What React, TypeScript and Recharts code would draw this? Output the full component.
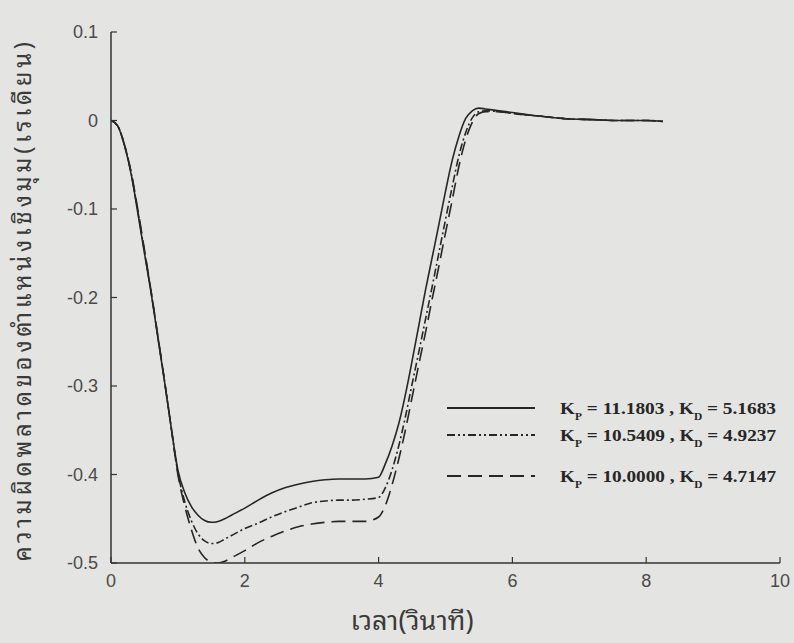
import React from 'react';
import { LineChart, Line, XAxis, YAxis } from 'recharts';

// time (s)
const timeS = [
  0, 0.1, 0.2, 0.3, 0.4, 0.5, 0.6, 0.7, 0.8, 0.9,
  1.0, 1.1, 1.2, 1.3, 1.4, 1.5, 1.6, 1.7, 1.8, 2.0,
  2.2, 2.4, 2.6, 2.8, 3.0, 3.2, 3.4, 3.6, 3.8, 4.0,
  4.1, 4.2, 4.3, 4.4, 4.5, 4.6, 4.7, 4.8, 4.9, 5.0,
  5.1, 5.2, 5.3, 5.4, 5.5, 5.6, 5.8, 6.0, 6.4, 6.8,
  7.2, 7.6, 8.0, 8.25,
];

// Kp = 11.1803, Kd = 5.1683 (solid)
const errKp111803 = [
  0, -0.006, -0.028, -0.06, -0.104, -0.15, -0.195, -0.245, -0.295, -0.347,
  -0.395, -0.42, -0.436, -0.446, -0.452, -0.454, -0.453, -0.45, -0.446, -0.438,
  -0.429, -0.421, -0.415, -0.411, -0.408, -0.406, -0.405, -0.405, -0.405, -0.403,
  -0.388, -0.368, -0.343, -0.31, -0.272, -0.232, -0.192, -0.155, -0.118, -0.08,
  -0.045, -0.018, 0.002, 0.011, 0.014, 0.013, 0.011, 0.009, 0.005, 0.002,
  0.001, 0.0, 0.0, -0.001,
];

// Kp = 10.5409, Kd = 4.9237 (dash-dot)
const errKp105409 = [
  0, -0.006, -0.027, -0.059, -0.102, -0.148, -0.194, -0.244, -0.294, -0.347,
  -0.398, -0.43, -0.452, -0.467, -0.475, -0.478, -0.477, -0.473, -0.469, -0.461,
  -0.455, -0.448, -0.442, -0.437, -0.432, -0.43, -0.429, -0.429, -0.428, -0.426,
  -0.415, -0.395, -0.368, -0.335, -0.298, -0.262, -0.225, -0.188, -0.15, -0.112,
  -0.075, -0.04, -0.014, 0.003, 0.01, 0.011, 0.01, 0.008, 0.005, 0.002,
  0.001, 0.0, 0.0, -0.001,
];

// Kp = 10.0000, Kd = 4.7147 (long dash)
const errKp100000 = [
  0, -0.006, -0.027, -0.058, -0.1, -0.146, -0.193, -0.243, -0.294, -0.347,
  -0.4, -0.435, -0.462, -0.483, -0.494, -0.499, -0.5, -0.498, -0.494, -0.486,
  -0.477, -0.47, -0.464, -0.459, -0.456, -0.454, -0.453, -0.453, -0.453, -0.448,
  -0.435, -0.412, -0.383, -0.35, -0.313, -0.276, -0.24, -0.202, -0.165, -0.127,
  -0.09, -0.052, -0.022, -0.002, 0.008, 0.01, 0.01, 0.008, 0.005, 0.002,
  0.001, 0.0, 0.0, -0.001,
];

const xTicks = [0, 2, 4, 6, 8, 10];
const yTicks = [0.1, 0, -0.1, -0.2, -0.3, -0.4, -0.5];
const legendKp = ['11.1803', '10.5409', '10.0000'];
const legendKd = ['5.1683', '4.9237', '4.7147'];
const legendDash = ['', '8 3 2 3 2 3', '14 7'];
const xLabel = 'เวลา(วินาที)';
const yLabel = 'ความผิดพลาดของตำแหน่งเชิงมุม(เรเดียน)';

const data = timeS.map((t, i) => ({
  t,
  a: errKp111803[i],
  b: errKp105409[i],
  c: errKp100000[i],
}));

const AXIS = '#333333';
const INK = '#262626';
const TICKFONT = '"Liberation Sans", Arial, sans-serif';
const THAIFONT = '"Noto Sans Thai Looped", "Noto Sans Thai", Loma, Garuda, "Noto Sans", sans-serif';

const BottomTick = (props: any) => {
  const { x, y, payload } = props;
  return (
    <g>
      <line x1={x} x2={x} y1={y} y2={y - 6} stroke={AXIS} strokeWidth={1.2} />
      <text x={x} y={y + 24} textAnchor="middle" fontSize={18} fill="#4a4a4a" fontFamily={TICKFONT}>
        {payload.value}
      </text>
    </g>
  );
};
const TopTick = (props: any) => {
  const { x, y } = props;
  return <line x1={x} x2={x} y1={y} y2={y + 6} stroke={AXIS} strokeWidth={1.2} />;
};
const LeftTick = (props: any) => {
  const { x, y, payload } = props;
  return (
    <g>
      <line x1={x} x2={x + 6} y1={y} y2={y} stroke={AXIS} strokeWidth={1.2} />
      <text x={x - 13} y={y + 6} textAnchor="end" fontSize={18} fill="#4a4a4a" fontFamily={TICKFONT}>
        {payload.value}
      </text>
    </g>
  );
};
const RightTick = (props: any) => {
  const { x, y } = props;
  return <line x1={x} x2={x - 6} y1={y} y2={y} stroke={AXIS} strokeWidth={1.2} />;
};

const legendRowsY = [408, 435, 476];

const Overlay = () => (
  <svg width={794} height={643} style={{ position: 'absolute', left: 0, top: 0, pointerEvents: 'none' }}>
    {legendKp.map((kp, i) => (
      <g key={kp}>
        <line
          x1={447}
          x2={535}
          y1={legendRowsY[i]}
          y2={legendRowsY[i]}
          stroke={INK}
          strokeWidth={2}
          strokeDasharray={legendDash[i] || undefined}
        />
        <text
          x={560}
          y={legendRowsY[i] + 6}
          fontFamily='"Liberation Serif", "Times New Roman", serif'
          fontWeight="bold"
          fontSize={17}
          fill={INK}
          textLength={216}
          lengthAdjust="spacingAndGlyphs"
        >
          K<tspan dy={6} fontSize={10}>P</tspan>
          <tspan dy={-6}> = {kp} , K</tspan>
          <tspan dy={6} fontSize={10}>D</tspan>
          <tspan dy={-6}> = {legendKd[i]}</tspan>
        </text>
      </g>
    ))}
    <text x={412} y={630} textAnchor="middle" fontSize={27} fill="#3a3a3a" fontFamily={THAIFONT}>
      {xLabel}
    </text>
    <text
      transform="translate(31,300) rotate(-90)"
      textAnchor="middle"
      fontSize={24}
      letterSpacing={3.6}
      fill="#3a3a3a"
      fontFamily={THAIFONT}
    >
      {yLabel}
    </text>
  </svg>
);

export default function App() {
  return (
    <div style={{ position: 'absolute', left: 0, top: 0, width: 794, height: 643, background: '#e4e4e2' }}>
      <LineChart width={794} height={643} data={data} margin={{ top: 32, right: 14, left: 0, bottom: 0 }}>
        <XAxis
          dataKey="t"
          type="number"
          domain={[0, 10]}
          ticks={xTicks}
          height={80}
          tickSize={0}
          tickMargin={0}
          tickLine={false}
          tick={<BottomTick />}
          stroke={AXIS}
          strokeWidth={1.5}
          allowDataOverflow
        />
        <XAxis
          xAxisId="top"
          orientation="top"
          dataKey="t"
          type="number"
          domain={[0, 10]}
          ticks={xTicks}
          height={0}
          tickSize={0}
          tickMargin={0}
          tickLine={false}
          tick={<TopTick />}
          stroke={AXIS}
          strokeWidth={1.5}
        />
        <YAxis
          type="number"
          domain={[-0.5, 0.1]}
          ticks={yTicks}
          width={111}
          tickSize={0}
          tickMargin={0}
          tickLine={false}
          tick={<LeftTick />}
          stroke={AXIS}
          strokeWidth={1.5}
          allowDataOverflow
          interval={0}
        />
        <YAxis
          yAxisId="right"
          orientation="right"
          type="number"
          domain={[-0.5, 0.1]}
          ticks={yTicks}
          width={0}
          tickSize={0}
          tickMargin={0}
          tickLine={false}
          tick={<RightTick />}
          stroke={AXIS}
          strokeWidth={1.5}
          interval={0}
        />
        <Line dataKey="a" type="monotone" stroke={INK} strokeWidth={1.6} dot={false} isAnimationActive={false} />
        <Line dataKey="b" type="monotone" stroke={INK} strokeWidth={1.6} strokeDasharray="8 3 2 3" dot={false} isAnimationActive={false} />
        <Line dataKey="c" type="monotone" stroke={INK} strokeWidth={1.6} strokeDasharray="14 7" dot={false} isAnimationActive={false} />
      </LineChart>
      <Overlay />
    </div>
  );
}
